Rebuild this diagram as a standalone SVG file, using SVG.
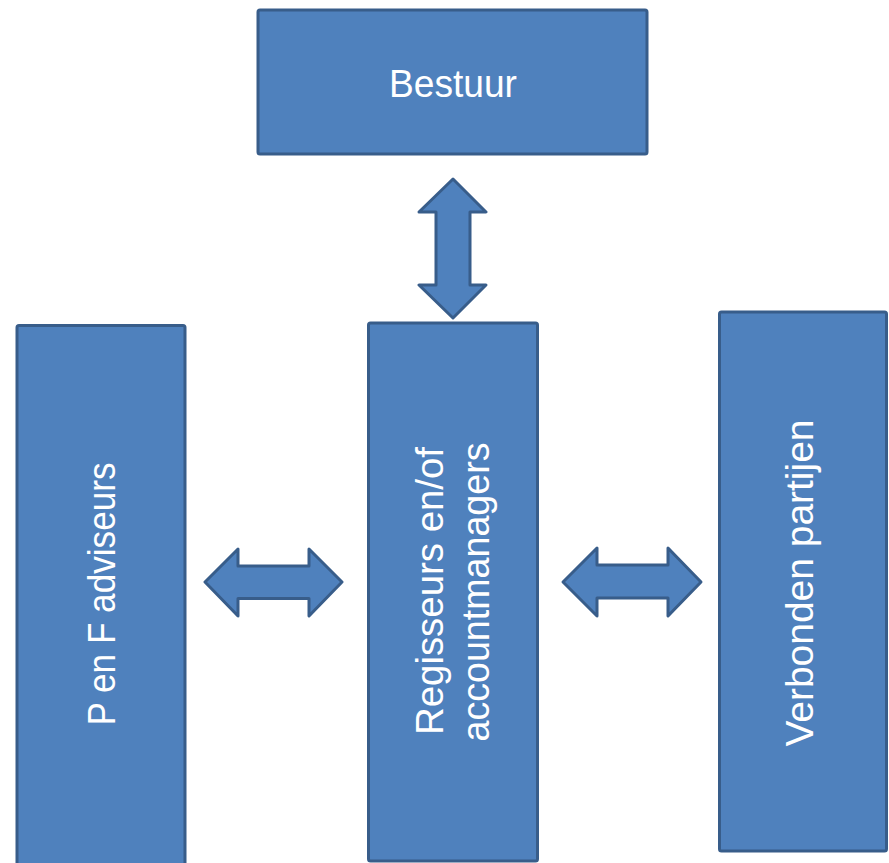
<svg xmlns="http://www.w3.org/2000/svg" width="889" height="863" viewBox="0 0 889 863">
<style>
.box{fill:#4F81BD;stroke:#385D8A;stroke-width:3;}
.arr{fill:#4F81BD;stroke:#385D8A;stroke-width:3;stroke-linejoin:round;}
.t{font-family:"Liberation Sans",Arial,sans-serif;font-size:38px;fill:#FFFFFF;text-anchor:middle;}
</style>
<rect width="889" height="863" fill="#FFFFFF"/>
<g id="node-bestuur">
<rect class="box" x="258" y="10" width="389" height="144" rx="2"/>
<text class="t" x="453" y="97" textLength="128" lengthAdjust="spacingAndGlyphs">Bestuur</text>
</g>
<g id="node-pf">
<rect class="box" x="17" y="325.5" width="168" height="560" rx="2"/>
<text class="t" transform="translate(115,594) rotate(-90)" x="0" y="0" textLength="263" lengthAdjust="spacingAndGlyphs">P en F adviseurs</text>
</g>
<g id="node-regisseurs">
<rect class="box" x="368.5" y="323" width="169" height="538" rx="2"/>
<text class="t" transform="translate(443,591) rotate(-90)" x="0" y="0" textLength="288" lengthAdjust="spacingAndGlyphs">Regisseurs en/of</text>
<text class="t" transform="translate(489,592) rotate(-90)" x="0" y="0" textLength="299" lengthAdjust="spacingAndGlyphs">accountmanagers</text>
</g>
<g id="node-verbonden">
<rect class="box" x="719.5" y="312" width="167" height="539" rx="2"/>
<text class="t" transform="translate(813,583) rotate(-90)" x="0" y="0" textLength="327" lengthAdjust="spacingAndGlyphs">Verbonden partijen</text>
</g>
<g id="connectors">
<polygon class="arr" points="453,179 486,212 470,212 470,285 486,285 453,318 419,285 436,285 436,212 419,212"/>
<polygon class="arr" points="205,582 238,549 238,566 309,566 309,549 342,582 309,616 309,598.5 238,598.5 238,616"/>
<polygon class="arr" points="563,582 597,548 597,565 668,565 668,548 701,582 668,616 668,598 597,598 597,616"/>
</g>
</svg>
